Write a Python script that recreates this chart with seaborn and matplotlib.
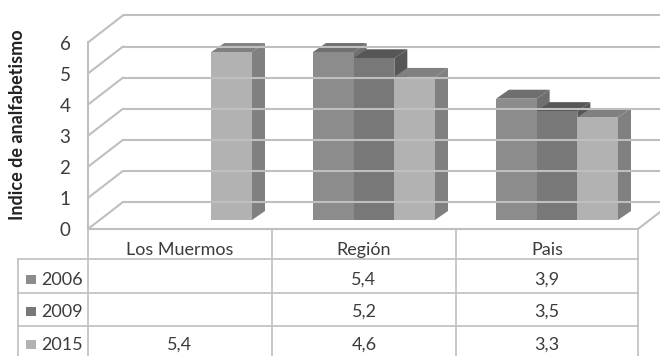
import matplotlib
matplotlib.use("Agg")
import matplotlib.pyplot as plt
import pandas as pd
import seaborn as sns
from matplotlib.lines import Line2D
from matplotlib.patches import Polygon, Rectangle
from matplotlib.transforms import Affine2D

lugares = ["Los Muermos", "Región", "Pais"]
anios = ["2006", "2009", "2015"]
v2006 = [None, 5.4, 3.9]
v2009 = [None, 5.2, 3.5]
v2015 = [5.4, 4.6, 3.3]
ticks = [0, 1, 2, 3, 4, 5, 6]

frente = ["#8c8c8c", "#787878", "#b2b2b2"]
lado = ["#6f6f6f", "#565656", "#808080"]
techo = ["#6f6f6f", "#565656", "#808080"]
linea = "#bfbfbf"

sns.set_theme(style="white")
plt.rcParams["font.family"] = ["Lato", "DejaVu Sans"]

W, H = 660, 356
fig = plt.figure(figsize=(W / 100, H / 100), dpi=100)
ax = fig.add_axes([0, 0, 1, 1])

rows = []
for anio, vals in zip(anios, [v2006, v2009, v2015]):
    for lugar, v in zip(lugares, vals):
        rows.append({"lugar": lugar, "anio": anio, "valor": v})
df = pd.DataFrame(rows).dropna()
df["lugar"] = pd.Categorical(df["lugar"], lugares)

sns.barplot(data=df, x="lugar", y="valor", hue="anio", hue_order=anios,
            order=lugares, palette=frente, width=2 / 3, gap=0, saturation=1,
            legend=False, ax=ax, linewidth=0)

# escala: 183 px por grupo, 31.1 px por unidad
sx, sy = 183.0, 31.1
ax.set_xlim(-191 / sx, (W - 191) / sx)
ax.set_ylim((220 - H) / sy, 220 / sy)
ax.axis("off")

# capa en pixeles con origen arriba a la izquierda
px = Affine2D().scale(1 / W, -1 / H).translate(0, 1) + fig.transFigure


def raya(xs, ys, c=linea, lw=1.5, z=1):
    fig.add_artist(Line2D(xs, ys, color=c, lw=lw, transform=px, zorder=z))


ax.patch.set_visible(False)
for t in ticks:
    yf = 229 - sy * t
    yb = 202 - sy * t
    if t > 0:
        raya([88, 123], [yf, yb])
    raya([123, W], [yb, yb])
raya([88, 123], [229, 202])
raya([638, W], [229, 212])
raya([88, 88], [229 - sy * 6, 229])

# caras laterales y superiores de cada barra
dx, dy = 13 / sx, 9 / sy
for i, cont in enumerate(ax.containers):
    z = 3 + 2 * i
    for bar in cont.patches:
        x0, w, h = bar.get_x(), bar.get_width(), bar.get_height()
        if pd.isna(h):
            continue
        x1 = x0 + w
        bar.set_zorder(z + 1)
        ax.add_patch(Polygon([(x1, 0), (x1 + dx, dy), (x1 + dx, h + dy), (x1, h)],
                             color=lado[i], lw=0, zorder=z))
        ax.add_patch(Polygon([(x0, h), (x0 + dx, h + dy), (x1 + dx, h + dy), (x1, h)],
                             color=techo[i], lw=0, zorder=z))

# tabla de datos
for xv in [88, 272, 456, 638]:
    raya([xv, xv], [229, H], lw=1.2)
raya([18, 18], [259, H], lw=1.2)
raya([88, 638], [229, 229])
for yh in [259, 293, 326]:
    raya([18, 638], [yh, yh], lw=1.2)

txt = "#3c3c3c"
cols = [180, 364, 547]
for cx, nombre in zip(cols, lugares):
    fig.text(cx, 250, nombre, transform=px, ha="center", va="center", fontsize=13, color=txt)

filas = [280, 312, 345]
for yt, anio, vals, c in zip(filas, anios, [v2006, v2009, v2015], frente):
    fig.add_artist(Rectangle((26, yt - 5), 10, 9, color=c, lw=0, transform=px))
    fig.text(41, yt, anio, transform=px, ha="left", va="center", fontsize=13, color=txt)
    for cx, v in zip(cols, vals):
        if v is not None:
            fig.text(cx, yt, f"{v:.1f}".replace(".", ","), transform=px,
                     ha="center", va="center", fontsize=13, color=txt)

for t in ticks:
    fig.text(65, 231 - sy * t, str(t), transform=px, ha="center", va="center",
             fontsize=13.5, color=txt)

fig.text(18, 125, "Indice de analfabetismo", transform=px, rotation=90, ha="center",
         va="center", fontsize=13, fontweight="bold", color="#222222")

fig.savefig("out.png", dpi=100, facecolor="white")
